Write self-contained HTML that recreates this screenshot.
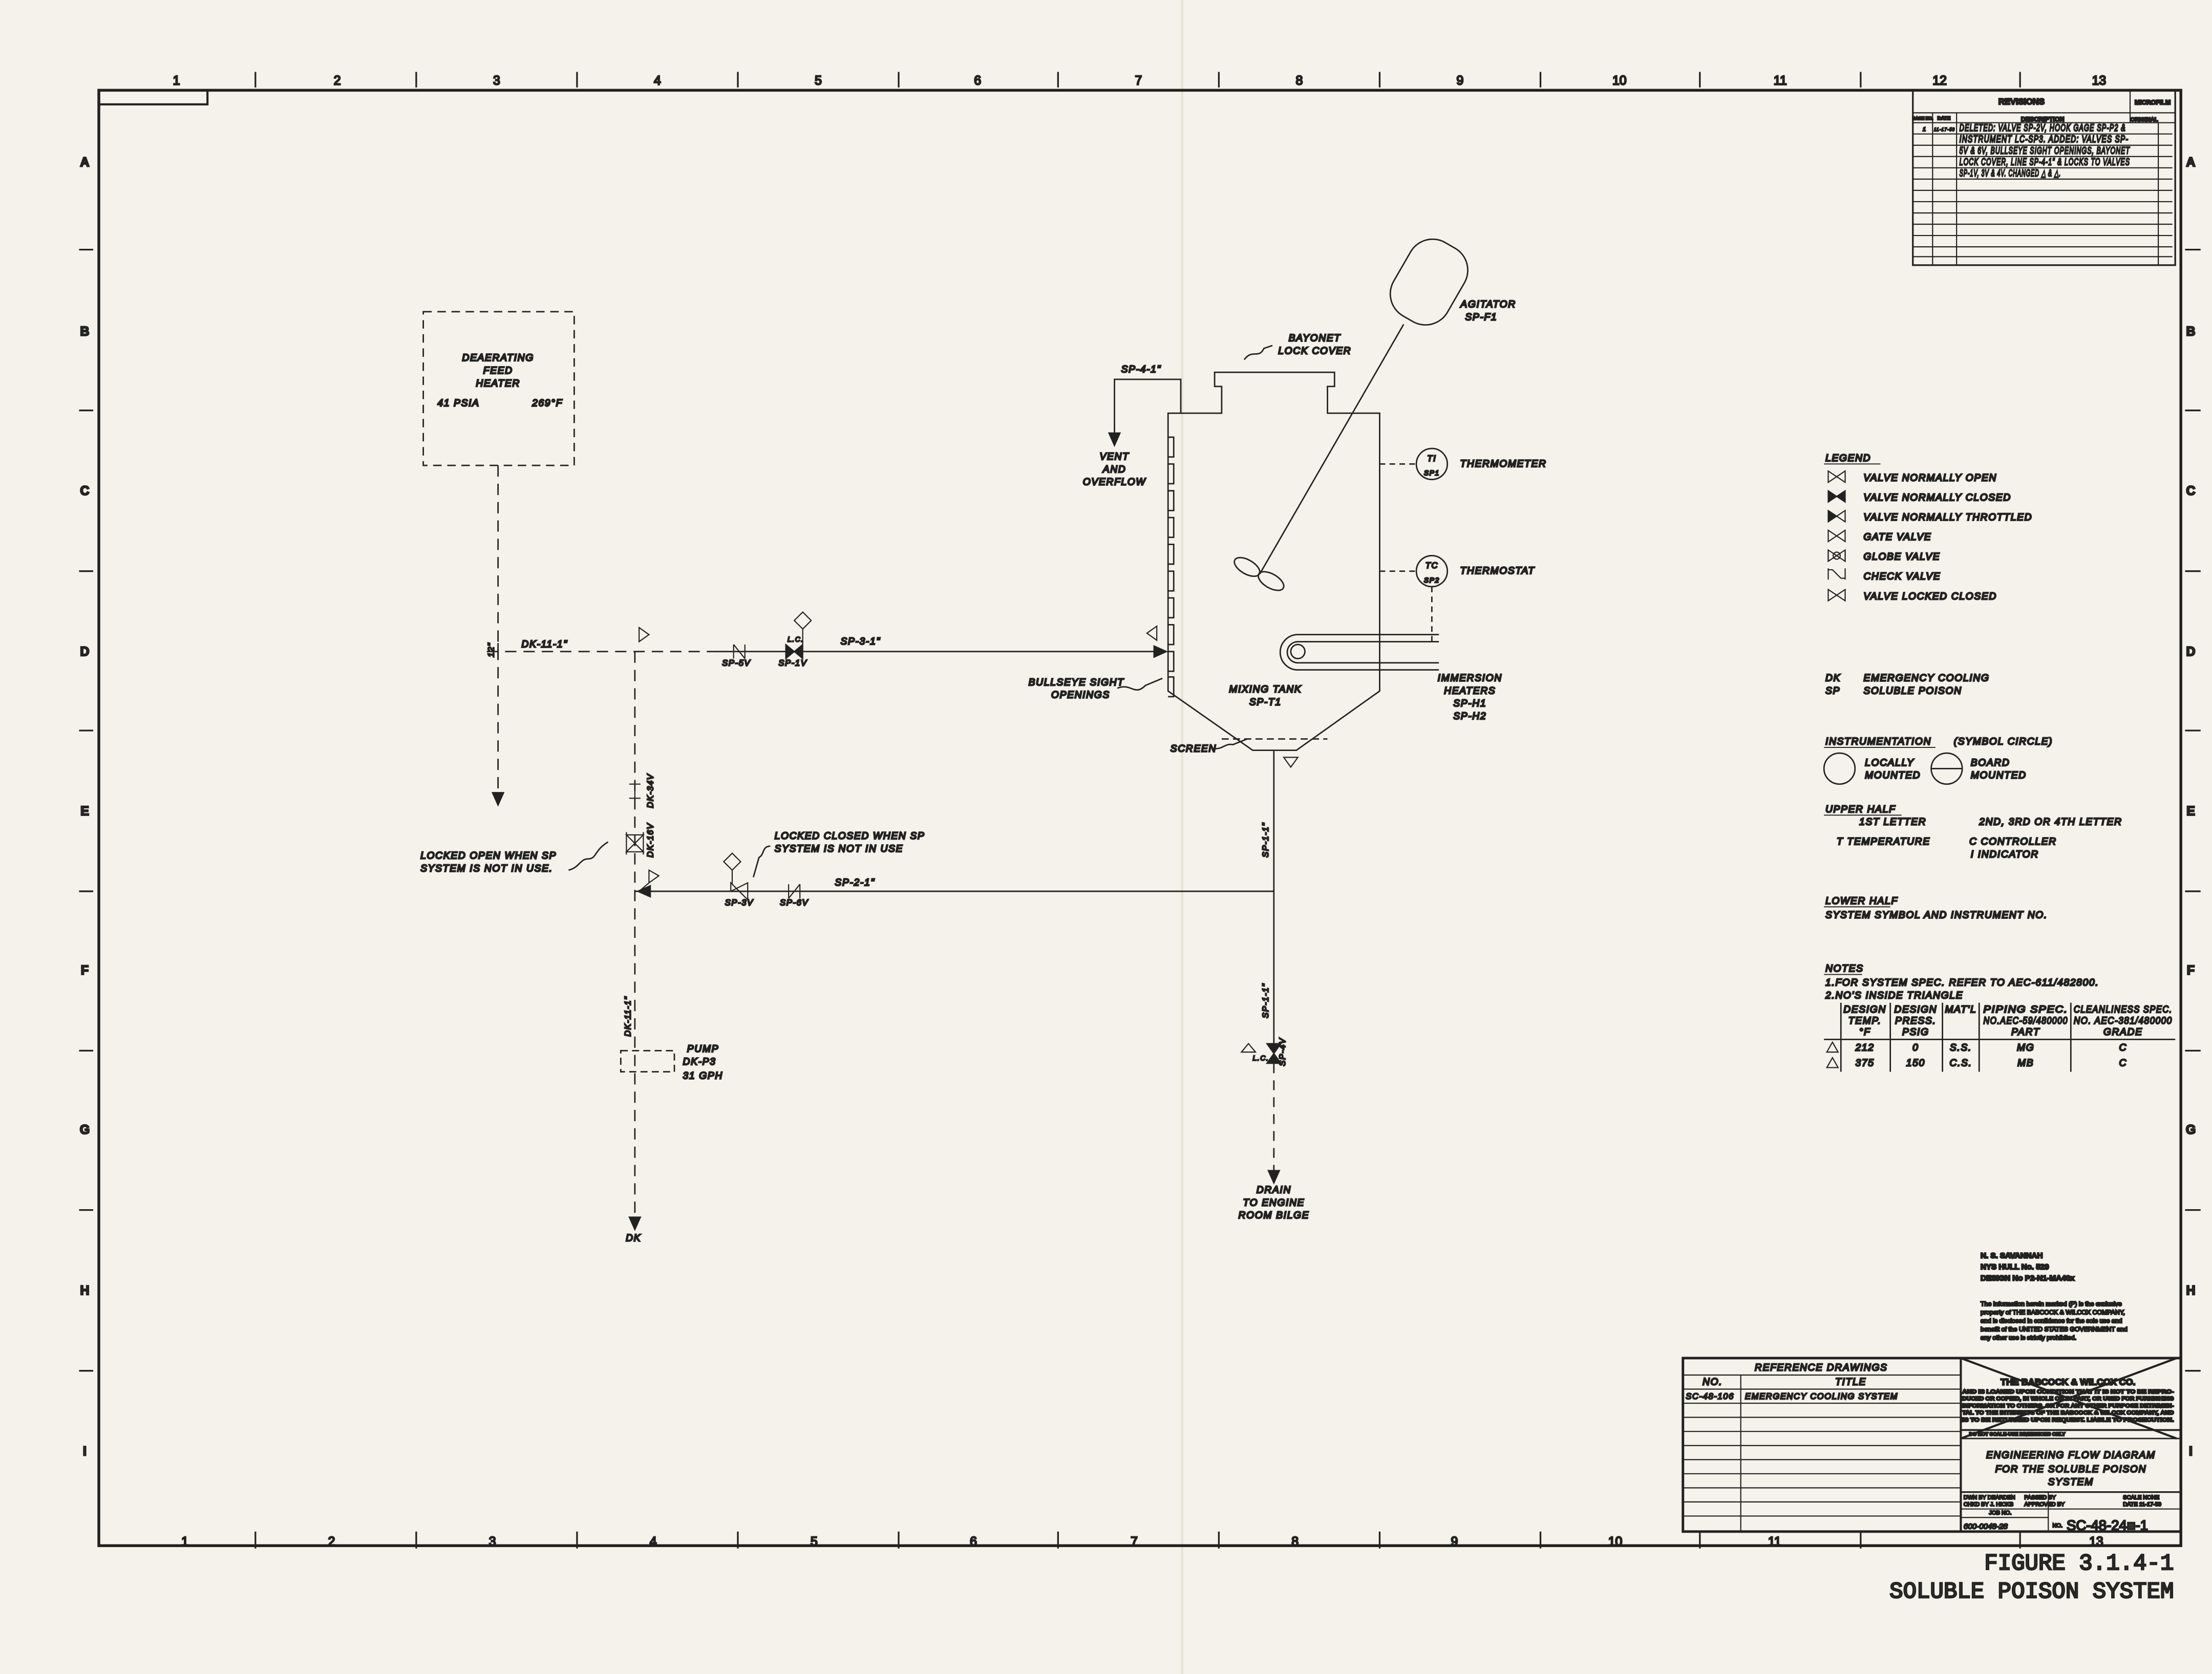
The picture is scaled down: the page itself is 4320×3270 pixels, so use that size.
<!DOCTYPE html>
<html><head><meta charset="utf-8">
<style>
html,body{margin:0;padding:0;background:#f4f2ea;}
svg{display:block;}
text{font-family:"Liberation Sans",sans-serif;fill:#333;}
.h{font-style:italic;font-size:7px;letter-spacing:0.6px;font-weight:normal;}
.b{font-weight:bold;}
</style></head><body>
<svg width="4320" height="3270" viewBox="0 0 1568 1187" xmlns="http://www.w3.org/2000/svg">
<rect width="1568" height="1187" fill="#f4f2ea"/>
<line x1="838" y1="0" x2="838" y2="1187" stroke="#e6e2d6" stroke-width="1.5"/>
<g fill="none" stroke="#222" stroke-linecap="butt">
<rect x="70" y="64" width="1476" height="1032" stroke-width="2"/>
<rect x="70" y="64" width="77" height="10" stroke-width="1.5"/>
<g stroke-width="1.2">
<line x1="181" y1="51" x2="181" y2="62"/><line x1="295" y1="51" x2="295" y2="62"/><line x1="409" y1="51" x2="409" y2="62"/><line x1="523" y1="51" x2="523" y2="62"/><line x1="637" y1="51" x2="637" y2="62"/><line x1="750" y1="51" x2="750" y2="62"/><line x1="864" y1="51" x2="864" y2="62"/><line x1="978" y1="51" x2="978" y2="62"/><line x1="1092" y1="51" x2="1092" y2="62"/><line x1="1205" y1="51" x2="1205" y2="62"/><line x1="1319" y1="51" x2="1319" y2="62"/><line x1="1432" y1="51" x2="1432" y2="62"/>
<line x1="181" y1="1086" x2="181" y2="1098"/><line x1="295" y1="1086" x2="295" y2="1098"/><line x1="409" y1="1086" x2="409" y2="1098"/><line x1="523" y1="1086" x2="523" y2="1098"/><line x1="637" y1="1086" x2="637" y2="1098"/><line x1="750" y1="1086" x2="750" y2="1098"/><line x1="864" y1="1086" x2="864" y2="1098"/><line x1="978" y1="1086" x2="978" y2="1098"/><line x1="1092" y1="1086" x2="1092" y2="1098"/><line x1="1205" y1="1086" x2="1205" y2="1098"/><line x1="1319" y1="1086" x2="1319" y2="1098"/><line x1="1432" y1="1086" x2="1432" y2="1098"/>
<line x1="56" y1="177" x2="66" y2="177"/><line x1="56" y1="291" x2="66" y2="291"/><line x1="56" y1="405" x2="66" y2="405"/><line x1="56" y1="518" x2="66" y2="518"/><line x1="56" y1="632" x2="66" y2="632"/><line x1="56" y1="745" x2="66" y2="745"/><line x1="56" y1="858" x2="66" y2="858"/><line x1="56" y1="972" x2="66" y2="972"/>
<line x1="1549" y1="177" x2="1560" y2="177"/><line x1="1549" y1="291" x2="1560" y2="291"/><line x1="1549" y1="405" x2="1560" y2="405"/><line x1="1549" y1="518" x2="1560" y2="518"/><line x1="1549" y1="632" x2="1560" y2="632"/><line x1="1549" y1="745" x2="1560" y2="745"/><line x1="1549" y1="858" x2="1560" y2="858"/><line x1="1549" y1="972" x2="1560" y2="972"/>
</g>
<g stroke-width="0.8">
<rect x="1356" y="64" width="186" height="124" stroke-width="1.2"/>
<line x1="1356" y1="80" x2="1542" y2="80"/><line x1="1356" y1="87" x2="1542" y2="87"/>
<line x1="1356" y1="95" x2="1540" y2="95"/><line x1="1356" y1="103" x2="1540" y2="103"/><line x1="1356" y1="111" x2="1540" y2="111"/><line x1="1356" y1="119" x2="1540" y2="119"/><line x1="1356" y1="127" x2="1540" y2="127"/><line x1="1356" y1="135" x2="1540" y2="135"/><line x1="1356" y1="143" x2="1540" y2="143"/><line x1="1356" y1="151" x2="1540" y2="151"/><line x1="1356" y1="159" x2="1540" y2="159"/><line x1="1356" y1="167" x2="1540" y2="167"/><line x1="1356" y1="175" x2="1540" y2="175"/><line x1="1356" y1="182" x2="1540" y2="182"/>
<line x1="1370" y1="80" x2="1370" y2="188"/><line x1="1387" y1="80" x2="1387" y2="188"/><line x1="1510" y1="64" x2="1510" y2="87"/><line x1="1530" y1="87" x2="1530" y2="188"/>
</g>
<rect x="300" y="221" width="107" height="109" stroke-width="1" stroke-dasharray="6,4"/>
<line x1="353" y1="330" x2="353" y2="563" stroke-width="1" stroke-dasharray="8,5"/>
<line x1="345" y1="462" x2="505" y2="462" stroke-width="1" stroke-dasharray="8,5"/>
<line x1="353" y1="456" x2="353" y2="468" stroke-width="1"/>
<line x1="505" y1="462" x2="822" y2="462" stroke-width="1"/>
<line x1="450" y1="462" x2="450" y2="865" stroke-width="1" stroke-dasharray="8,5"/>
<line x1="450" y1="632" x2="903" y2="632" stroke-width="1"/>
<polyline points="837,293 837,269 790,269 790,308" stroke-width="1"/>
<g stroke-width="1">
<polyline points="837,293 828,293 828,490 888,532 919,532 978,490 978,293 941,293 941,274 946,274 946,264 861,264 861,274 866,274 866,293 837,293"/>
<line x1="866" y1="524" x2="941" y2="524" stroke-dasharray="5,3"/>
<path d="M828 310h4v14h-4M828 329h4v14h-4M828 348h4v14h-4M828 367h4v14h-4M828 386h4v14h-4M828 405h4v14h-4M828 424h4v14h-4M828 443h4v14h-4M828 462h4v14h-4M828 480h4v14h-4"/>
<line x1="903" y1="532" x2="903" y2="740" />
<line x1="903" y1="754" x2="903" y2="830" stroke-dasharray="7,5"/>
<line x1="995" y1="230" x2="893" y2="407"/>
<g transform="rotate(30 1013 200)"><rect x="991" y="170" width="44" height="60" rx="18"/></g>
<ellipse cx="884" cy="402" rx="10" ry="5" transform="rotate(30 884 402)"/>
<ellipse cx="901" cy="412" rx="10" ry="5" transform="rotate(30 901 412)"/>
<line x1="978" y1="329" x2="1004" y2="329" stroke-dasharray="4,3"/>
<circle cx="1015" cy="329" r="11"/>
<line x1="978" y1="405" x2="1004" y2="405" stroke-dasharray="4,3"/>
<circle cx="1015" cy="405" r="11"/>
<line x1="1015" y1="416" x2="1015" y2="455" stroke-dasharray="4,3"/>
<path d="M1020 455H920a7.5 7.5 0 0 0 0 15H1020"/>
<path d="M1020 450H920a12.5 12.5 0 0 0 0 25H1020"/>
<circle cx="920" cy="462" r="5"/>
<rect x="440" y="745" width="38" height="15" stroke-dasharray="5,3"/>
<path d="M792 488c10 -4 12 6 20 -2l12 -5" />
<path d="M860 531c8 0 8 -4 14 -3l10 -4"/>
<path d="M882 255c6 -8 10 0 14 -8l6 -2"/>
<path d="M403 617c8 -2 8 -8 14 -8s4 -6 14 -12"/>
<path d="M546 600c-6 0 -4 6 -8 8l-4 14"/>
<circle cx="1304" cy="545" r="11"/>
<circle cx="1380" cy="545" r="11"/><line x1="1369" y1="545" x2="1391" y2="545"/>
<line x1="1305" y1="711" x2="1305" y2="760"/><line x1="1340" y1="711" x2="1340" y2="760"/><line x1="1377" y1="711" x2="1377" y2="760"/><line x1="1403" y1="711" x2="1403" y2="760"/><line x1="1468" y1="711" x2="1468" y2="760"/>
<line x1="1293" y1="737" x2="1542" y2="737"/>
<line x1="1293" y1="329" x2="1333" y2="329" stroke-width="0.7"/>
<line x1="1293" y1="530" x2="1372" y2="530" stroke-width="0.7"/>
<line x1="1293" y1="578" x2="1348" y2="578" stroke-width="0.7"/>
<line x1="1293" y1="643" x2="1340" y2="643" stroke-width="0.7"/>
<line x1="1293" y1="691" x2="1320" y2="691" stroke-width="0.7"/>
</g>
<g fill="none" stroke="#222">
<rect x="1193" y="963" width="353" height="123" stroke-width="1.8"/>
<line x1="1390" y1="963" x2="1390" y2="1086" stroke-width="1.5"/>
<g stroke-width="0.8">
<line x1="1193" y1="975" x2="1390" y2="975"/><line x1="1193" y1="985" x2="1390" y2="985"/><line x1="1193" y1="995" x2="1390" y2="995"/><line x1="1193" y1="1005" x2="1390" y2="1005"/><line x1="1193" y1="1015" x2="1390" y2="1015"/><line x1="1193" y1="1025" x2="1390" y2="1025"/><line x1="1193" y1="1035" x2="1390" y2="1035"/><line x1="1193" y1="1045" x2="1390" y2="1045"/><line x1="1193" y1="1055" x2="1390" y2="1055"/><line x1="1193" y1="1065" x2="1390" y2="1065"/><line x1="1193" y1="1075" x2="1390" y2="1075"/>
<line x1="1234" y1="975" x2="1234" y2="1086"/>
</g>
<line x1="1390" y1="1014" x2="1546" y2="1014" stroke-width="1.3"/>
<line x1="1390" y1="1020" x2="1546" y2="1020" stroke-width="1"/>
<line x1="1390" y1="963" x2="1543" y2="1020" stroke-width="1.5"/>
<line x1="1543" y1="963" x2="1390" y2="1020" stroke-width="1.5"/>
<line x1="1390" y1="1058" x2="1546" y2="1058" stroke-width="1.2"/>
<line x1="1390" y1="1070" x2="1546" y2="1070" stroke-width="0.8"/>
<line x1="1452" y1="1058" x2="1452" y2="1086" stroke-width="0.8"/>
<line x1="1390" y1="1076" x2="1452" y2="1076" stroke-width="0.8"/>
</g>
<g fill="#222" stroke="#222" stroke-width="0.8">
<polygon points="349,562 357,562 353,571"/>
<polygon points="786,307 794,307 790,316"/>
<polygon points="446,863 454,863 450,872"/>
<polygon points="899,830 907,830 903,839"/>
<polygon points="818,458 818,466 827,462"/>
<polygon points="461,628 461,636 452,632"/>
<polygon points="557,457 569,467 569,457 557,467"/>
<polygon points="898,740 908,740 898,754 908,754"/>
<polygon points="1296,348 1308,356 1308,348 1296,356"/>
<polygon points="1296,362 1302,366 1296,370"/>
</g>
<g fill="none" stroke="#222" stroke-width="0.8">
<polygon points="1296,334 1308,342 1308,334 1296,342"/>
<polygon points="1302,366 1308,362 1308,370"/>
<polygon points="1296,376 1308,384 1308,376 1296,384"/>
<polygon points="1296,390 1308,398 1308,390 1296,398"/><circle cx="1302" cy="394" r="2.5"/><line x1="1296" y1="390" x2="1296" y2="398"/><line x1="1308" y1="390" x2="1308" y2="398"/>
<path d="M1296 403v8M1296 404h3l6 6h3M1308 403v8"/>
<polygon points="1296,418 1308,426 1308,418 1296,426"/>
<polygon points="518,632 530,626 530,638 518,626"/>
<path d="M520 457v10M520 457l8 10M528 457v10"/>
<path d="M559 627v10M559 637l8 -10M567 627v10"/>
<polygon points="444,592 456,604 444,604 456,592"/><path d="M444 590v16M456 590v16"/>
<path d="M446 556h8M450 556v10M446 566h8"/>
<polygon points="453,445 460,450 453,455"/>
<polygon points="460,617 467,621 460,626" />
<line x1="460" y1="626" x2="453" y2="632"/>
<polygon points="813,449 820,444 820,454"/>
<polygon points="910,537 920,537 915,544"/>
<polygon points="880,746 890,746 885,740"/>
<polygon points="563,440 569,434 575,440 569,446"/><line x1="569" y1="446" x2="569" y2="457"/>
<polygon points="513,611 519,605 525,611 519,617"/><line x1="519" y1="617" x2="519" y2="627"/>
<polygon points="1295,746 1303,746 1299,739"/><polygon points="1295,757 1303,757 1299,750"/>
</g>
<g font-size="9" text-anchor="middle">
<text x="125" y="60">1</text><text x="239" y="60">2</text><text x="352" y="60">3</text><text x="466" y="60">4</text><text x="580" y="60">5</text><text x="693" y="60">6</text><text x="807" y="60">7</text><text x="921" y="60">8</text><text x="1035" y="60">9</text><text x="1148" y="60">10</text><text x="1262" y="60">11</text><text x="1375" y="60">12</text><text x="1488" y="60">13</text>
<text x="131" y="1096">1</text><text x="235" y="1096">2</text><text x="349" y="1096">3</text><text x="463" y="1096">4</text><text x="577" y="1096">5</text><text x="690" y="1096">6</text><text x="804" y="1096">7</text><text x="918" y="1096">8</text><text x="1031" y="1096">9</text><text x="1145" y="1096">10</text><text x="1258" y="1096">11</text><text x="1486" y="1096">13</text>
<g class="b"><text x="60" y="118">A</text><text x="60" y="238">B</text><text x="60" y="351">C</text><text x="60" y="465">D</text><text x="60" y="578">E</text><text x="60" y="691">F</text><text x="60" y="804">G</text><text x="60" y="918">H</text><text x="60" y="1032">I</text>
<text x="1553" y="118">A</text><text x="1553" y="238">B</text><text x="1553" y="351">C</text><text x="1553" y="465">D</text><text x="1553" y="578">E</text><text x="1553" y="691">F</text><text x="1553" y="804">G</text><text x="1553" y="918">H</text><text x="1553" y="1032">I</text></g>
</g>
<g font-size="6" class="b" text-anchor="middle">
<text x="1433" y="74">REVISIONS</text><text x="1526" y="74" font-size="4.5">MICROFILM</text><text x="1448" y="86" font-size="4.5">DESCRIPTION</text><text x="1520" y="86" font-size="4">ORIGINAL</text><text x="1363" y="85" font-size="3">DASH NO.</text><text x="1378" y="85" font-size="3.5">DATE</text>
</g>
<g class="h" font-size="5.2" letter-spacing="0.2">
<text x="1363" y="93" font-size="4">1</text><text x="1371" y="93" font-size="3.5" textLength="15" lengthAdjust="spacingAndGlyphs">11-17-59</text>
<text x="1389" y="93" textLength="118" lengthAdjust="spacingAndGlyphs">DELETED: VALVE SP-2V, HOOK GAGE SP-P2 &amp;</text>
<text x="1389" y="101" textLength="120" lengthAdjust="spacingAndGlyphs">INSTRUMENT LC-SP3. ADDED: VALVES SP-</text>
<text x="1389" y="109" textLength="121" lengthAdjust="spacingAndGlyphs">5V &amp; 6V, BULLSEYE SIGHT OPENINGS, BAYONET</text>
<text x="1389" y="117" textLength="121" lengthAdjust="spacingAndGlyphs">LOCK COVER, LINE SP-4-1" &amp; LOCKS TO VALVES</text>
<text x="1389" y="125" textLength="72" lengthAdjust="spacingAndGlyphs">SP-1V, 3V &amp; 4V. CHANGED △ &amp; △.</text>
</g>
<g class="h" text-anchor="middle">
<text x="353" y="256">DEAERATING</text><text x="353" y="265">FEED</text><text x="353" y="274">HEATER</text>
<text x="325" y="288">41 PSIA</text><text x="388" y="288">269°F</text>
<text x="386" y="459">DK-11-1"</text>
<text x="610" y="457">SP-3-1"</text>
<text x="522" y="472" font-size="6">SP-5V</text><text x="562" y="472" font-size="6">SP-1V</text><text x="564" y="455" font-size="5">L.C.</text>
<text x="606" y="628">SP-2-1"</text>
<text x="524" y="642" font-size="6">SP-3V</text><text x="563" y="642" font-size="6">SP-6V</text>
<text x="809" y="264">SP-4-1"</text>
<text x="790" y="326">VENT</text><text x="790" y="335">AND</text><text x="790" y="344">OVERFLOW</text>
<text x="932" y="242">BAYONET</text><text x="932" y="251">LOCK COVER</text>
<text x="1055" y="218">AGITATOR</text><text x="1050" y="227">SP-F1</text>
<text x="763" y="486">BULLSEYE SIGHT</text><text x="766" y="495">OPENINGS</text>
<text x="897" y="491">MIXING TANK</text><text x="897" y="500">SP-T1</text>
<text x="846" y="533">SCREEN</text>
<text x="1042" y="483">IMMERSION</text><text x="1042" y="492">HEATERS</text><text x="1042" y="501">SP-H1</text><text x="1042" y="510">SP-H2</text>
<text x="1015" y="327" font-size="6">TI</text><text x="1015" y="337" font-size="5">SP1</text>
<text x="1015" y="403" font-size="6">TC</text><text x="1015" y="413" font-size="5">SP2</text>
<text x="903" y="846">DRAIN</text><text x="903" y="855">TO ENGINE</text><text x="903" y="864">ROOM BILGE</text>
<text x="449" y="880">DK</text>
</g>
<g class="h">
<text x="1035" y="331">THERMOMETER</text><text x="1035" y="407">THERMOSTAT</text>
<text x="487" y="746">PUMP</text><text x="484" y="755">DK-P3</text><text x="484" y="765">31 GPH</text>
<text x="298" y="609">LOCKED OPEN WHEN SP</text><text x="298" y="618">SYSTEM IS NOT IN USE.</text>
<text x="549" y="595">LOCKED CLOSED WHEN SP</text><text x="549" y="604">SYSTEM IS NOT IN USE</text>
<text transform="translate(350,466) rotate(-90)" font-size="6">12"</text>
<text transform="translate(463,573) rotate(-90)" font-size="6">DK-34V</text>
<text transform="translate(463,608) rotate(-90)" font-size="6">DK-16V</text>
<text transform="translate(447,735) rotate(-90)" font-size="6">DK-11-1"</text>
<text transform="translate(899,608) rotate(-90)" font-size="6">SP-1-1"</text>
<text transform="translate(899,722) rotate(-90)" font-size="6">SP-1-1"</text>
<text transform="translate(911,756) rotate(-90)" font-size="6">SP-4V</text>
<text x="888" y="752" font-size="5">L.C.</text>
<text x="1294" y="327">LEGEND</text>
<text x="1321" y="341">VALVE NORMALLY OPEN</text>
<text x="1321" y="355">VALVE NORMALLY CLOSED</text>
<text x="1321" y="369">VALVE NORMALLY THROTTLED</text>
<text x="1321" y="383">GATE VALVE</text>
<text x="1321" y="397">GLOBE VALVE</text>
<text x="1321" y="411">CHECK VALVE</text>
<text x="1321" y="425">VALVE LOCKED CLOSED</text>
<text x="1294" y="483">DK</text><text x="1321" y="483">EMERGENCY COOLING</text>
<text x="1294" y="492">SP</text><text x="1321" y="492">SOLUBLE POISON</text>
<text x="1294" y="528">INSTRUMENTATION</text><text x="1385" y="528">(SYMBOL CIRCLE)</text>
<text x="1322" y="543">LOCALLY</text><text x="1322" y="552">MOUNTED</text>
<text x="1397" y="543">BOARD</text><text x="1397" y="552">MOUNTED</text>
<text x="1294" y="576">UPPER HALF</text>
<text x="1318" y="585">1ST LETTER</text><text x="1403" y="585">2ND, 3RD OR 4TH LETTER</text>
<text x="1302" y="599">T  TEMPERATURE</text>
<text x="1396" y="599">C  CONTROLLER</text><text x="1397" y="608">I  INDICATOR</text>
<text x="1294" y="641">LOWER HALF</text>
<text x="1294" y="651">SYSTEM SYMBOL AND INSTRUMENT NO.</text>
<text x="1294" y="689">NOTES</text>
<text x="1294" y="699">1.FOR SYSTEM SPEC. REFER TO AEC-611/482800.</text>
<text x="1294" y="708">2.NO'S INSIDE TRIANGLE</text>
</g>
<g class="h" font-size="5.5" text-anchor="middle" letter-spacing="0.2">
<text x="1322" y="718">DESIGN</text><text x="1322" y="726">TEMP.</text><text x="1322" y="734">°F</text>
<text x="1358" y="718">DESIGN</text><text x="1358" y="726">PRESS.</text><text x="1358" y="734">PSIG</text>
<text x="1390" y="718">MAT'L</text>
<text x="1436" y="718" textLength="60" lengthAdjust="spacingAndGlyphs">PIPING SPEC.</text><text x="1436" y="726" textLength="60" lengthAdjust="spacingAndGlyphs">NO.AEC-59/480000</text><text x="1436" y="734">PART</text>
<text x="1505" y="718" textLength="70" lengthAdjust="spacingAndGlyphs">CLEANLINESS SPEC.</text><text x="1505" y="726" textLength="70" lengthAdjust="spacingAndGlyphs">NO. AEC-381/480000</text><text x="1505" y="734">GRADE</text>
<text x="1322" y="745">212</text><text x="1358" y="745">0</text><text x="1390" y="745">S.S.</text><text x="1436" y="745">MG</text><text x="1505" y="745">C</text>
<text x="1322" y="756">375</text><text x="1358" y="756">150</text><text x="1390" y="756">C.S.</text><text x="1436" y="756">MB</text><text x="1505" y="756">C</text>
</g>
<g font-size="5.5" class="b">
<text x="1404" y="892">N. S. SAVANNAH</text>
<text x="1404" y="900">NYS HULL No. 529</text>
<text x="1404" y="908">DESIGN No P2-N1-MA40x</text>
</g>
<g font-size="4.5">
<text x="1404" y="926">The information herein marked (P) is the exclusive</text>
<text x="1404" y="932">property of THE BABCOCK &amp; WILCOX COMPANY,</text>
<text x="1404" y="938">and is disclosed in confidence for the sole use and</text>
<text x="1404" y="944">benefit of the UNITED STATES GOVERNMENT and</text>
<text x="1404" y="950">any other use is strictly prohibited.</text>
</g>
<g class="h" font-size="6.5">
<text x="1291" y="972" text-anchor="middle">REFERENCE DRAWINGS</text>
<text x="1214" y="982" text-anchor="middle">NO.</text><text x="1312" y="982" text-anchor="middle">TITLE</text>
<text x="1195" y="992" font-size="6">SC-48-106</text><text x="1237" y="992" font-size="6">EMERGENCY COOLING SYSTEM</text>
</g>
<g font-size="4" class="b" text-anchor="middle">
<text x="1466" y="982" font-size="6.5">THE BABCOCK &amp; WILCOX CO.</text>
<text x="1466" y="988" textLength="150" lengthAdjust="spacingAndGlyphs">AND IS LOANED UPON CONDITION THAT IT IS NOT TO BE REPRO-</text>
<text x="1466" y="993" textLength="150" lengthAdjust="spacingAndGlyphs">DUCED OR COPIED, IN WHOLE OR IN PART, OR USED FOR FURNISHING</text>
<text x="1466" y="998" textLength="150" lengthAdjust="spacingAndGlyphs">INFORMATION TO OTHERS, OR FOR ANY OTHER PURPOSE DETRIMEN-</text>
<text x="1466" y="1003" textLength="150" lengthAdjust="spacingAndGlyphs">TAL TO THE INTERESTS OF THE BABCOCK &amp; WILCOX COMPANY, AND</text>
<text x="1466" y="1008" textLength="150" lengthAdjust="spacingAndGlyphs">IS TO BE RETURNED UPON REQUEST. LIABLE TO PROSECUTION.</text>
<text x="1430" y="1018" font-size="3.5">DO NOT SCALE-USE DIMENSIONS ONLY</text>
</g>
<g class="h" font-size="9" text-anchor="middle">
<text x="1468" y="1034">ENGINEERING FLOW DIAGRAM</text>
<text x="1468" y="1044">FOR THE SOLUBLE POISON</text>
<text x="1468" y="1053">SYSTEM</text>
</g>
<g font-size="4">
<text x="1392" y="1063">DWN BY DEARDEN</text><text x="1392" y="1068">CHKD BY J. HICKS</text>
<text x="1435" y="1063">PASSED BY</text><text x="1435" y="1068">APPROVED BY</text>
<text x="1505" y="1063">SCALE NONE</text><text x="1505" y="1068">DATE 11-17-59</text>
<text x="1410" y="1074">JOB NO.</text>
<text x="1392" y="1084" font-size="5.5" font-style="italic">600-0048-28</text>
<text x="1455" y="1083">NO.</text>
<text x="1465" y="1085" font-size="10">SC-48-24■-1</text>
</g>
<g font-size="16" text-anchor="end">
<text x="1541" y="1113" style="font-family:'Liberation Mono',monospace">FIGURE 3.1.4-1</text>
<text x="1541" y="1133" style="font-family:'Liberation Mono',monospace">SOLUBLE POISON SYSTEM</text>
</g>
</svg>
</body></html>
